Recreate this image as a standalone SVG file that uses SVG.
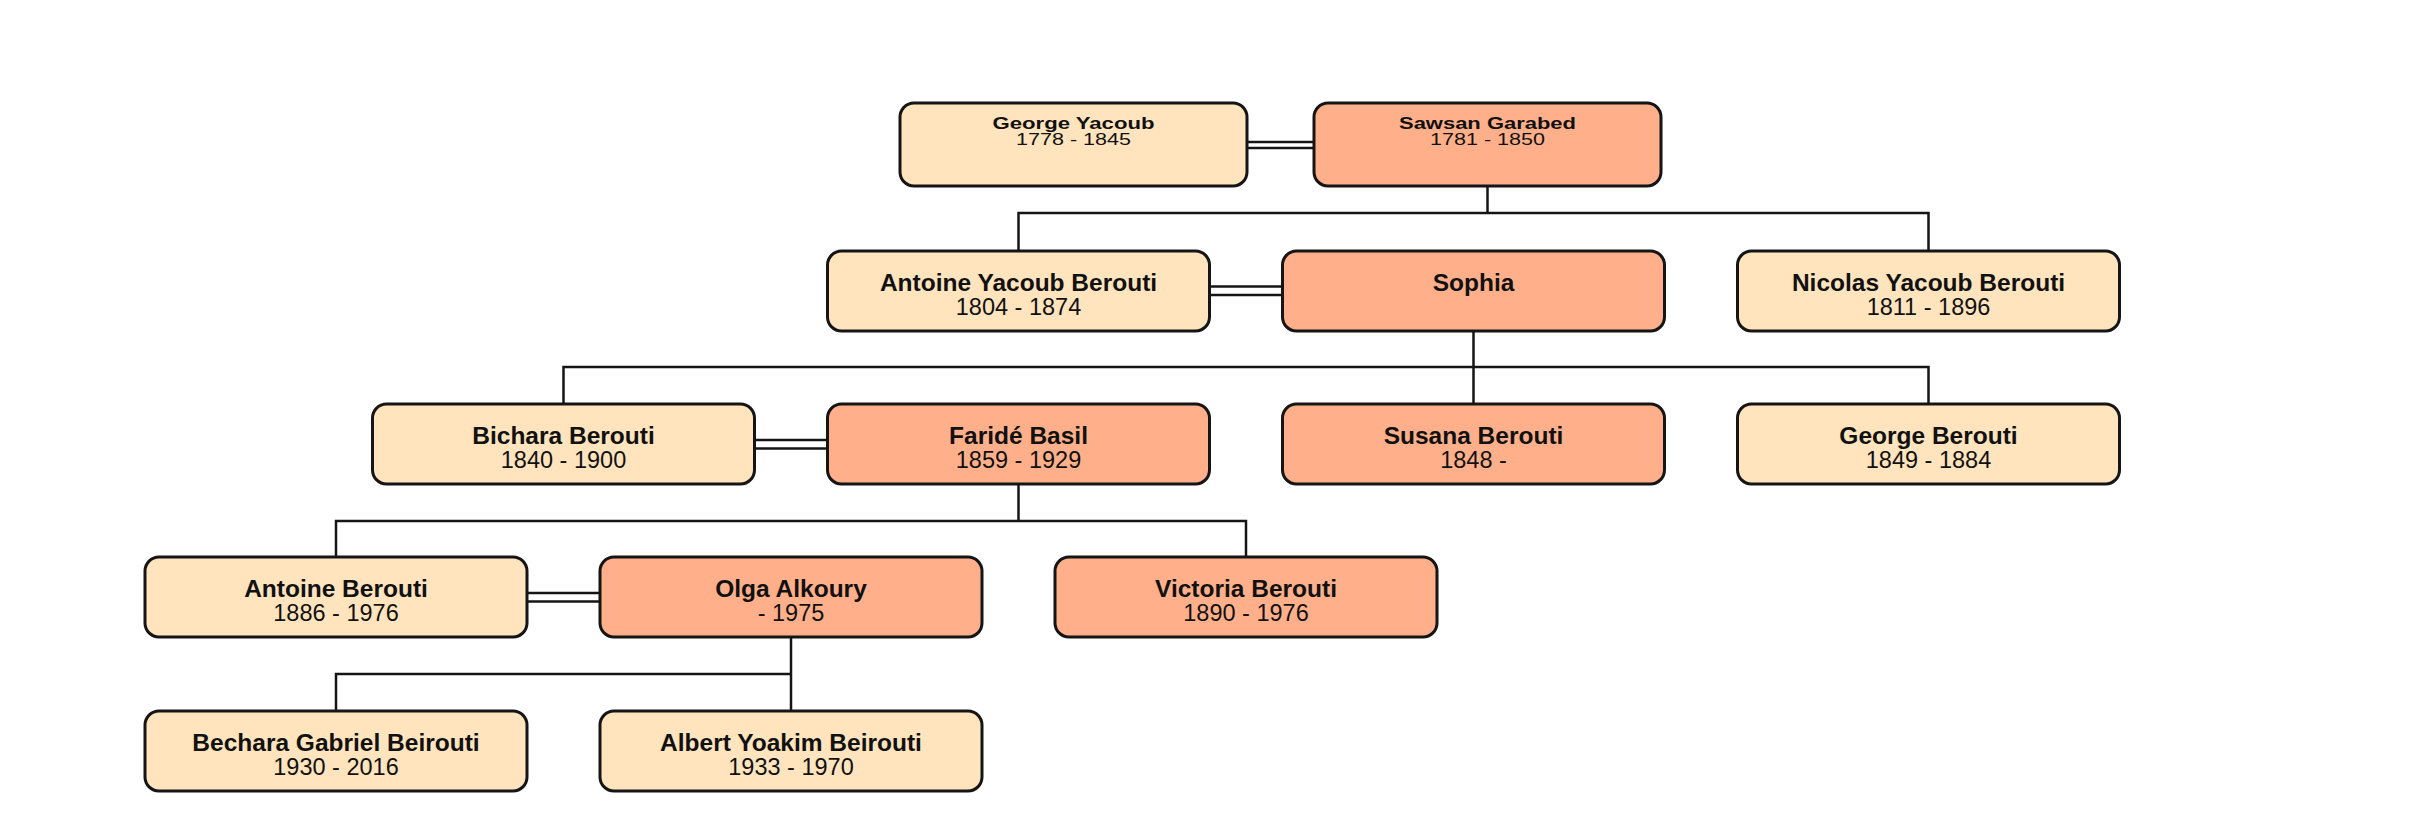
<svg xmlns="http://www.w3.org/2000/svg" width="2424" height="830" viewBox="0 0 2424 830">
<style>
.box{stroke:#151515;stroke-width:3}
.m{fill:#FFE4BE}
.f{fill:#FFB08A}
.n{font-family:"Liberation Sans",Arial,sans-serif;font-weight:bold;fill:#111;text-anchor:middle}
.d{font-family:"Liberation Sans",Arial,sans-serif;fill:#111;text-anchor:middle}
.t0{font-size:17px}
.n.t1{font-size:24.5px}
.d.t1{font-size:23.5px}
#connectors line,#connectors polyline{stroke:#151515;stroke-width:2.5;fill:none}
</style>
<rect width="2424" height="830" fill="#fff"/>
<g id="connectors">
<line x1="1247" y1="142" x2="1314" y2="142"/>
<line x1="1247" y1="148" x2="1314" y2="148"/>
<polyline points="1487.5,186 1487.5,213"/>
<polyline points="1018.5,251 1018.5,213 1928.5,213 1928.5,251"/>
<line x1="1209.5" y1="286.5" x2="1282.5" y2="286.5"/>
<line x1="1209.5" y1="295" x2="1282.5" y2="295"/>
<polyline points="1473.5,331 1473.5,367"/>
<polyline points="563.5,404 563.5,367 1928.5,367 1928.5,404"/>
<line x1="1473.5" y1="367" x2="1473.5" y2="404"/>
<line x1="754.5" y1="440" x2="827.5" y2="440"/>
<line x1="754.5" y1="448.5" x2="827.5" y2="448.5"/>
<polyline points="1018.5,484 1018.5,521"/>
<polyline points="336,557 336,521 1246,521 1246,557"/>
<line x1="527" y1="593" x2="600" y2="593"/>
<line x1="527" y1="601.5" x2="600" y2="601.5"/>
<polyline points="791,637 791,711"/>
<polyline points="336,711 336,674 791,674"/>
</g>
<g id="george-yacoub"><rect class="box m" x="900" y="103" width="347" height="83" rx="14"/><text class="n t0" x="1073.5" y="129" textLength="162" lengthAdjust="spacingAndGlyphs">George Yacoub</text><text class="d t0" x="1073.5" y="145" textLength="115" lengthAdjust="spacingAndGlyphs">1778 - 1845</text></g>
<g id="sawsan-garabed"><rect class="box f" x="1314" y="103" width="347" height="83" rx="14"/><text class="n t0" x="1487.5" y="129" textLength="177" lengthAdjust="spacingAndGlyphs">Sawsan Garabed</text><text class="d t0" x="1487.5" y="145" textLength="115" lengthAdjust="spacingAndGlyphs">1781 - 1850</text></g>
<g id="antoine-yacoub-berouti"><rect class="box m" x="827.5" y="251" width="382" height="80" rx="14"/><text class="n t1" x="1018.5" y="291">Antoine Yacoub Berouti</text><text class="d t1" x="1018.5" y="315">1804 - 1874</text></g>
<g id="sophia"><rect class="box f" x="1282.5" y="251" width="382" height="80" rx="14"/><text class="n t1" x="1473.5" y="291">Sophia</text></g>
<g id="nicolas-yacoub-berouti"><rect class="box m" x="1737.5" y="251" width="382" height="80" rx="14"/><text class="n t1" x="1928.5" y="291">Nicolas Yacoub Berouti</text><text class="d t1" x="1928.5" y="315">1811 - 1896</text></g>
<g id="bichara-berouti"><rect class="box m" x="372.5" y="404" width="382" height="80" rx="14"/><text class="n t1" x="563.5" y="444">Bichara Berouti</text><text class="d t1" x="563.5" y="468">1840 - 1900</text></g>
<g id="faride-basil"><rect class="box f" x="827.5" y="404" width="382" height="80" rx="14"/><text class="n t1" x="1018.5" y="444">Faridé Basil</text><text class="d t1" x="1018.5" y="468">1859 - 1929</text></g>
<g id="susana-berouti"><rect class="box f" x="1282.5" y="404" width="382" height="80" rx="14"/><text class="n t1" x="1473.5" y="444">Susana Berouti</text><text class="d t1" x="1473.5" y="468">1848 -</text></g>
<g id="george-berouti"><rect class="box m" x="1737.5" y="404" width="382" height="80" rx="14"/><text class="n t1" x="1928.5" y="444">George Berouti</text><text class="d t1" x="1928.5" y="468">1849 - 1884</text></g>
<g id="antoine-berouti"><rect class="box m" x="145" y="557" width="382" height="80" rx="14"/><text class="n t1" x="336" y="597">Antoine Berouti</text><text class="d t1" x="336" y="621">1886 - 1976</text></g>
<g id="olga-alkoury"><rect class="box f" x="600" y="557" width="382" height="80" rx="14"/><text class="n t1" x="791" y="597">Olga Alkoury</text><text class="d t1" x="791" y="621">- 1975</text></g>
<g id="victoria-berouti"><rect class="box f" x="1055" y="557" width="382" height="80" rx="14"/><text class="n t1" x="1246" y="597">Victoria Berouti</text><text class="d t1" x="1246" y="621">1890 - 1976</text></g>
<g id="bechara-gabriel-beirouti"><rect class="box m" x="145" y="711" width="382" height="80" rx="14"/><text class="n t1" x="336" y="751">Bechara Gabriel Beirouti</text><text class="d t1" x="336" y="775">1930 - 2016</text></g>
<g id="albert-yoakim-beirouti"><rect class="box m" x="600" y="711" width="382" height="80" rx="14"/><text class="n t1" x="791" y="751">Albert Yoakim Beirouti</text><text class="d t1" x="791" y="775">1933 - 1970</text></g>
</svg>
